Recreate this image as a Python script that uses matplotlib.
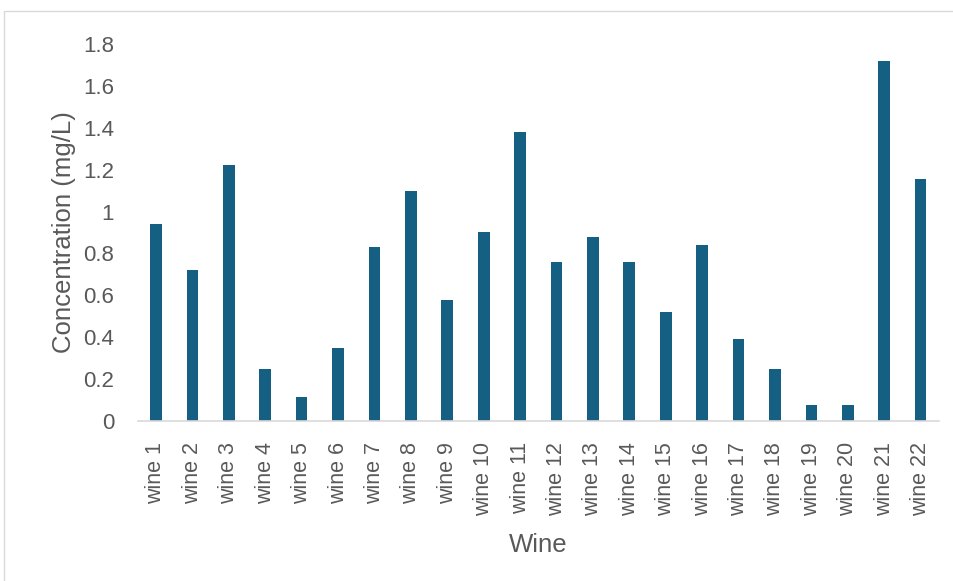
import matplotlib
matplotlib.use("Agg")
import matplotlib.pyplot as plt
from matplotlib.patches import Rectangle

# Wine samples and their measured concentrations (mg/L)
wines = [f"wine {i}" for i in range(1, 23)]
concentration = [0.94, 0.72, 1.22, 0.25, 0.115, 0.35, 0.83, 1.10, 0.58, 0.90, 1.38,
                 0.76, 0.88, 0.76, 0.52, 0.84, 0.39, 0.25, 0.075, 0.075, 1.72, 1.155]
y_ticks = [0, 0.2, 0.4, 0.6, 0.8, 1, 1.2, 1.4, 1.6, 1.8]
y_tick_labels = ["0", "0.2", "0.4", "0.6", "0.8", "1", "1.2", "1.4", "1.6", "1.8"]

W, H = 954, 581
fig = plt.figure(figsize=(W / 100, H / 100), dpi=100)
plt.rcParams["font.family"] = ["Liberation Sans", "DejaVu Sans"]

text_color = "#595959"
bar_color = "#156082"

# Chart area border
fig.patches.append(Rectangle((4 / W, -0.05), 1.1, (H - 11) / H + 0.05,
                             transform=fig.transFigure, fill=False,
                             edgecolor="#d9d9d9", linewidth=1.0))

left, right = 137.8 / W, 938.8 / W
bottom, top = (H - 421) / H, (H - 44) / H
ax = fig.add_axes([left, bottom, right - left, top - bottom])

x = range(len(wines))
ax.bar(x, concentration, width=0.32, color=bar_color)

ax.set_xlim(-0.5, len(wines) - 0.5)
ax.set_ylim(0, 1.8)
ax.set_yticks(y_ticks)
ax.set_yticklabels(y_tick_labels)
ax.set_xticks(list(x))
ax.set_xticklabels(wines, rotation=90, va="top", ha="center")

for s in ["top", "right", "left"]:
    ax.spines[s].set_visible(False)
ax.spines["bottom"].set_color("#d9d9d9")
ax.spines["bottom"].set_linewidth(1.2)

ax.tick_params(axis="y", length=0, pad=17, labelsize=16, labelcolor=text_color)
ax.tick_params(axis="x", length=0, pad=15, labelsize=15.5, labelcolor=text_color)

ax.set_ylabel("Concentration (mg/L)", fontsize=18.5, color=text_color, labelpad=5)
ax.set_xlabel("Wine", fontsize=18.5, color=text_color, labelpad=12)

fig.savefig("out.png", dpi=100)
